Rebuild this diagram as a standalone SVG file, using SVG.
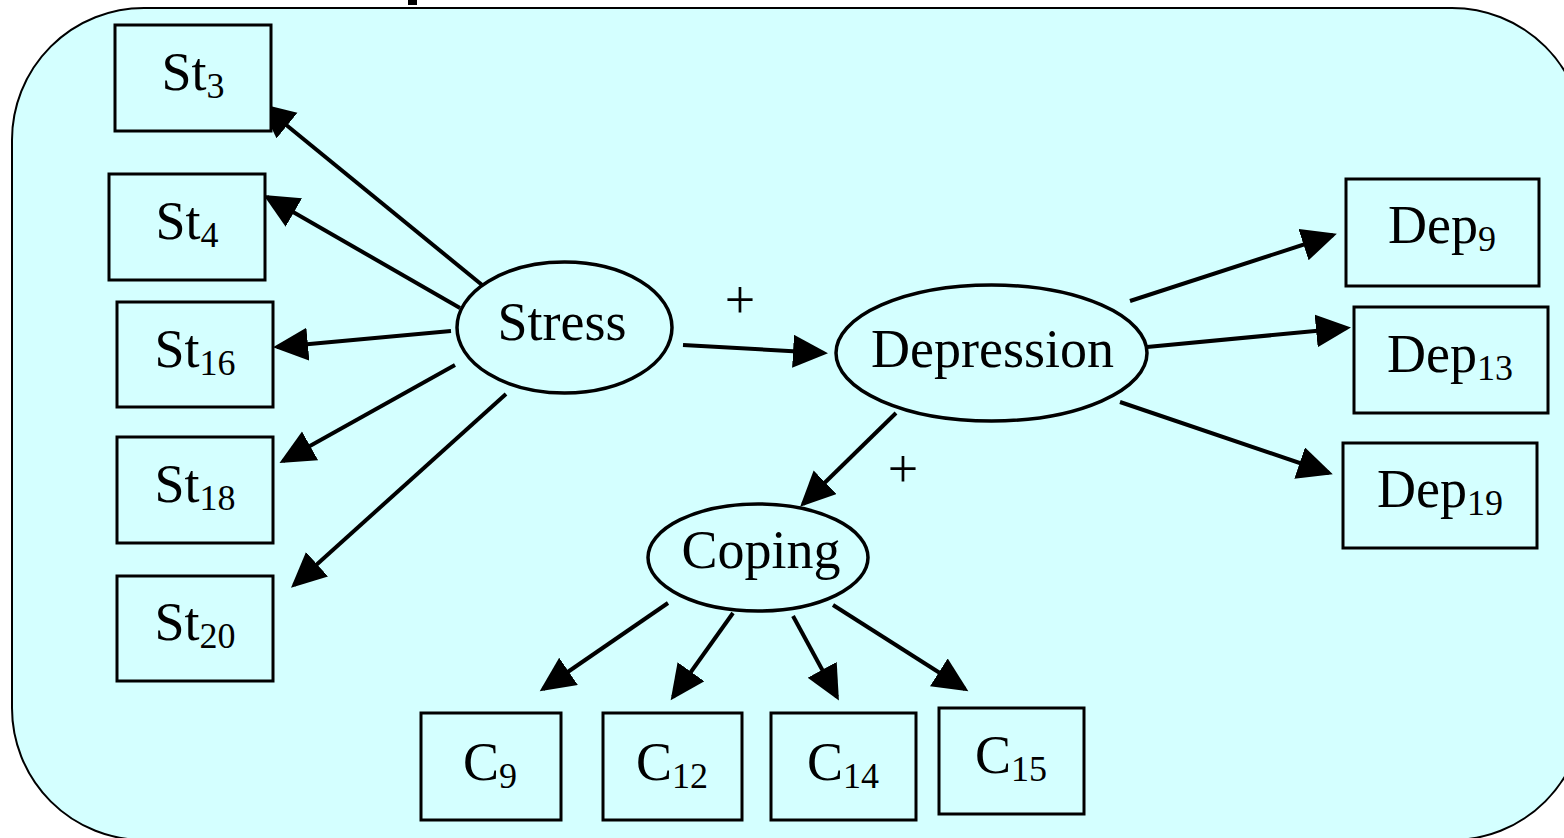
<svg xmlns="http://www.w3.org/2000/svg" width="1564" height="838" viewBox="0 0 1564 838">
<defs>
<style>
.bg{fill:#D4FFFF;stroke:#000;stroke-width:2}
.box{fill:#D4FFFF;stroke:#000;stroke-width:3}
.ell{fill:#D4FFFF;stroke:#000;stroke-width:3.5}
.t{font-family:"Liberation Serif","Times New Roman",serif;font-size:54px;fill:#000;text-anchor:middle}
.sub{font-size:36px}
.con line{stroke:#000;stroke-width:4;marker-end:url(#ah)}
</style>
<marker id="ah" markerUnits="userSpaceOnUse" markerWidth="36" markerHeight="34" refX="31" refY="16.5" orient="auto" viewBox="0 0 36 34">
<path d="M0,0 L35,16.5 L0,33 Z" fill="#000"/>
</marker>
</defs>
<rect width="1564" height="838" fill="#fff"/>
<rect class="bg" x="12" y="8" width="1572" height="832" rx="132" ry="132"/>
<rect x="408" y="0" width="9" height="5" fill="#000"/>

<g id="connectors" class="con">
<line x1="487" y1="289" x2="263" y2="106"/>
<line x1="460" y1="308" x2="267" y2="197"/>
<line x1="451" y1="331" x2="277" y2="347"/>
<line x1="455" y1="365" x2="283" y2="461"/>
<line x1="506" y1="394" x2="294" y2="585"/>
<line x1="683" y1="345" x2="824" y2="353"/>
<line x1="896" y1="413" x2="803" y2="504"/>
<line x1="1130" y1="301" x2="1333" y2="235"/>
<line x1="1147" y1="347" x2="1347" y2="328"/>
<line x1="1120" y1="402" x2="1329" y2="473"/>
<line x1="668" y1="603" x2="543" y2="689"/>
<line x1="733" y1="613" x2="673" y2="697"/>
<line x1="793" y1="616" x2="837" y2="697"/>
<line x1="833" y1="605" x2="965" y2="689"/>
</g>
<g id="labels">
<text class="t" x="740" y="318">+</text>
<text class="t" x="903" y="487">+</text>
</g>

<g id="stress"><ellipse class="ell" cx="564.5" cy="327.5" rx="107.5" ry="65.5"/><text class="t" x="562" y="340">Stress</text></g>
<g id="depression"><ellipse class="ell" cx="991.5" cy="353" rx="155.5" ry="68"/><text class="t" x="992.5" y="367">Depression</text></g>
<g id="coping"><ellipse class="ell" cx="758" cy="557.5" rx="110" ry="53.5"/><text class="t" x="761" y="568">Coping</text></g>

<g id="st3"><rect class="box" x="115" y="25" width="156" height="106"/><text class="t" x="193" y="90">St<tspan class="sub" dy="8">3</tspan></text></g>
<g id="st4"><rect class="box" x="109" y="174" width="156" height="106"/><text class="t" x="187" y="239">St<tspan class="sub" dy="8">4</tspan></text></g>
<g id="st16"><rect class="box" x="117" y="302" width="156" height="105"/><text class="t" x="195" y="367">St<tspan class="sub" dy="8">16</tspan></text></g>
<g id="st18"><rect class="box" x="117" y="437" width="156" height="106"/><text class="t" x="195" y="502">St<tspan class="sub" dy="8">18</tspan></text></g>
<g id="st20"><rect class="box" x="117" y="576" width="156" height="105"/><text class="t" x="195" y="640">St<tspan class="sub" dy="8">20</tspan></text></g>

<g id="dep9"><rect class="box" x="1346" y="179" width="193" height="107"/><text class="t" x="1442" y="243">Dep<tspan class="sub" dy="8">9</tspan></text></g>
<g id="dep13"><rect class="box" x="1354" y="307" width="194" height="106"/><text class="t" x="1450" y="372">Dep<tspan class="sub" dy="8">13</tspan></text></g>
<g id="dep19"><rect class="box" x="1343" y="443" width="194" height="105"/><text class="t" x="1440" y="507">Dep<tspan class="sub" dy="8">19</tspan></text></g>

<g id="c9"><rect class="box" x="421" y="713" width="140" height="107"/><text class="t" x="490" y="780">C<tspan class="sub" dy="8">9</tspan></text></g>
<g id="c12"><rect class="box" x="603" y="713" width="139" height="107"/><text class="t" x="672" y="780">C<tspan class="sub" dy="8">12</tspan></text></g>
<g id="c14"><rect class="box" x="771" y="713" width="145" height="107"/><text class="t" x="843" y="780">C<tspan class="sub" dy="8">14</tspan></text></g>
<g id="c15"><rect class="box" x="939" y="708" width="145" height="106"/><text class="t" x="1011" y="773">C<tspan class="sub" dy="8">15</tspan></text></g>
</svg>
